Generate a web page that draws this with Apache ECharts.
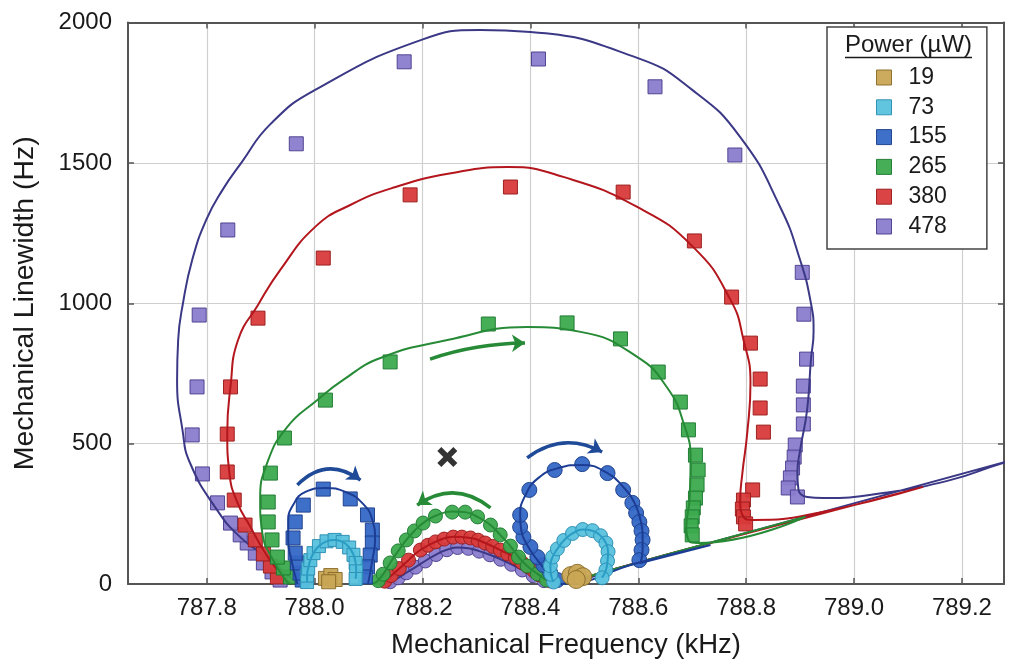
<!DOCTYPE html>
<html><head><meta charset="utf-8">
<script src="https://cdn.jsdelivr.net/npm/echarts@6/dist/echarts.min.js"></script>
<style>html,body{margin:0;padding:0;background:#fff}#chart{width:1012px;height:671px}</style>
</head><body><div id="chart"></div>
<script>
// ---------- axis ticks ----------
const xTicks = [787.8, 788.0, 788.2, 788.4, 788.6, 788.8, 789.0, 789.2];
const yTicks = [0, 500, 1000, 1500, 2000];
const powerLabels = ['19', '73', '155', '265', '380', '478'];

// ---------- 478 uW ----------
const sq478 = [[787.936,14],[787.921,43],[787.905,75],[787.890,110],[787.875,146],[787.862,175],[787.844,217],[787.820,289],[787.792,392],[787.773,531],[787.782,702],[787.786,958],[787.839,1261],[787.966,1568],[788.166,1860],[788.415,1870],[788.631,1771],[788.779,1528],[788.904,1110],[788.907,961],[788.912,801],[788.906,705],[788.906,638],[788.906,570],[788.891,495],[788.889,452],[788.886,413],[788.882,378],[788.878,342],[788.895,310]];
const ci478 = [[788.140,8],[788.155,22],[788.170,40],[788.187,60],[788.205,82],[788.225,105],[788.245,122],[788.265,130],[788.285,127],[788.305,117],[788.325,104],[788.345,88],[788.365,70],[788.385,50],[788.405,30],[788.425,12]];
const fitA478 = [[789.300,445],[788.800,182],[788.550,50],[788.455,0],[788.425,12],[788.405,30],[788.385,50],[788.365,70],[788.345,88],[788.325,104],[788.305,117],[788.285,127],[788.265,130],[788.245,122],[788.225,105],[788.205,82],[788.187,60],[788.170,40],[788.155,22],[788.140,8],[788.128,0]];
const fitB478 = [[787.968,0],[787.960,14],[787.918,85],[787.862,167],[787.819,264],[787.769,431],[787.755,549],[787.745,727],[787.747,869],[787.756,1001],[787.773,1154],[787.799,1297],[787.829,1403],[787.864,1500],[787.918,1638],[788.001,1760],[788.198,1938],[788.307,1973],[788.400,1966],[788.598,1874],[788.700,1760],[788.789,1592],[788.863,1343],[788.900,1154],[788.920,1001],[788.925,900],[788.920,798],[788.913,620],[788.900,477],[788.895,395],[788.897,335],[788.913,310],[788.943,306],[789.054,324],[789.178,370],[789.276,431],[789.300,440]];

// ---------- 380 uW ----------
const sq380 = [[787.931,25],[787.918,64],[787.905,107],[787.890,157],[787.871,210],[787.851,299],[787.838,399],[787.838,534],[787.844,702],[787.895,947],[788.016,1161],[788.177,1386],[788.363,1414],[788.572,1396],[788.704,1222],[788.773,1022],[788.808,858],[788.826,730],[788.826,627],[788.832,541],[788.812,335],[788.795,299],[788.793,267],[788.795,239],[788.799,214]];
const ci380 = [[788.130,10],[788.142,30],[788.157,55],[788.174,85],[788.196,121],[788.210,138],[788.224,150],[788.240,160],[788.257,167],[788.273,167],[788.289,164],[788.303,156],[788.316,146],[788.330,134],[788.344,121],[788.358,107],[788.372,93],[788.384,77],[788.396,61],[788.407,46],[788.418,32],[788.437,11]];
const fitA380 = [[789.128,346],[788.700,129],[788.520,34],[788.455,0],[788.437,11],[788.418,32],[788.396,61],[788.372,93],[788.344,121],[788.316,146],[788.289,164],[788.257,168],[788.224,150],[788.196,121],[788.174,85],[788.157,55],[788.142,30],[788.130,10],[788.120,0]];
const fitB380 = [[787.958,0],[787.931,50],[787.905,121],[787.881,203],[787.857,289],[787.842,395],[787.838,538],[787.844,702],[787.858,869],[787.895,994],[787.936,1118],[788.001,1272],[788.066,1350],[788.150,1414],[788.250,1462],[788.359,1485],[788.461,1450],[788.598,1343],[788.702,1200],[788.771,1012],[788.795,870],[788.808,716],[788.802,538],[788.793,395],[788.789,299],[788.795,239],[788.813,228],[788.932,253],[789.128,346]];

// ---------- 265 uW ----------
const sq265 = [[787.955,25],[787.942,57],[787.931,96],[787.921,157],[787.914,221],[787.914,292],[787.918,395],[787.944,520],[788.020,655],[788.140,791],[788.322,926],[788.468,930],[788.567,873],[788.637,755],[788.678,648],[788.693,549],[788.706,459],[788.711,406],[788.709,353],[788.706,306],[788.702,271],[788.700,239],[788.698,207],[788.700,175]];
const ci265 = [[788.118,12],[788.127,35],[788.140,75],[788.155,118],[788.170,157],[788.185,189],[788.201,217],[788.224,242],[788.255,256],[788.279,256],[788.302,239],[788.326,210],[788.344,175],[788.363,135],[788.378,96],[788.394,64],[788.413,36],[788.430,14]];
const fitA265 = [[788.910,240],[788.650,103],[788.520,34],[788.455,0],[788.440,6],[788.430,14],[788.413,36],[788.394,64],[788.378,96],[788.363,135],[788.344,175],[788.326,210],[788.302,239],[788.279,256],[788.255,258],[788.224,243],[788.201,217],[788.185,189],[788.170,157],[788.155,118],[788.140,75],[788.127,35],[788.115,8],[788.105,0]];
const fitB265 = [[787.955,0],[787.949,7],[787.923,85],[787.903,182],[787.899,299],[787.912,431],[787.949,559],[788.005,655],[788.053,727],[788.122,805],[788.246,869],[788.394,915],[788.493,898],[788.598,809],[788.654,698],[788.684,573],[788.697,442],[788.695,299],[788.689,203],[788.693,157],[788.710,146],[788.910,240]];

// ---------- 155 uW ----------
const sq155 = [[787.977,14],[787.973,39],[787.968,75],[787.964,110],[787.960,164],[787.964,221],[787.979,281],[788.016,338],[788.066,303],[788.098,246],[788.107,192],[788.107,146],[788.103,103],[788.098,61],[788.094,25]];
const ci155 = [[788.450,14],[788.437,39],[788.424,68],[788.413,96],[788.400,132],[788.387,167],[788.381,203],[788.381,246],[788.398,335],[788.445,406],[788.496,427],[788.543,395],[788.572,335],[788.589,289],[788.596,253],[788.602,221],[788.606,189],[788.608,157],[788.606,121],[788.602,85]];
const fitA155 = [[788.734,139],[788.600,76],[788.455,0],[788.452,7],[788.433,39],[788.413,85],[788.394,139],[788.383,192],[788.381,246],[788.391,317],[788.415,378],[788.452,413],[788.496,424],[788.543,395],[788.572,346],[788.593,289],[788.604,228],[788.608,175],[788.608,121],[788.604,75],[788.734,139]];
const fitB155 = [[788.099,0],[788.107,85],[788.112,157],[788.107,228],[788.088,289],[788.057,328],[788.020,342],[787.983,328],[787.960,281],[787.951,221],[787.951,157],[787.957,85],[787.968,0]];

// ---------- 73 uW ----------
const sq73 = [[787.986,7],[787.986,30],[787.988,55],[787.992,85],[787.998,110],[788.008,135],[788.022,152],[788.037,157],[788.052,150],[788.064,130],[788.072,104],[788.076,75],[788.077,45],[788.076,18]];
const ci73 = [[788.443,7],[788.438,35],[788.437,65],[788.441,96],[788.450,125],[788.462,155],[788.478,180],[788.497,194],[788.515,190],[788.530,172],[788.540,146],[788.544,115],[788.543,82],[788.540,50],[788.533,22]];

// ---------- 19 uW ----------
const sq19 = [[788.020,20],[788.030,30],[788.038,16],[788.026,8]];
const ci19 = [[788.475,30],[788.487,38],[788.497,26],[788.485,16]];

// ---------- annotations ----------
const crossPoint = [[788.246,452]];
const arrow155L = [[787.968,353],[788.085,370]];
const arrow155R = [[788.394,449],[788.533,470]];
const arrow265Top = [[788.214,801],[788.390,858]];
const arrow265Low = [[788.326,271],[788.190,281]];

// ---------- styles ----------
const FONT = "'Liberation Sans', Arial, Helvetica, sans-serif";
const TXT = '#1a1a1a';
const fills   = {'19':'#c9a655','73':'#58c2de','155':'#3467c6','265':'#3caa4e','380':'#d83a3a','478':'#8a7ccc'};
const borders = {'19':'#8a6d2a','73':'#2b8db2','155':'#1c3f8a','265':'#1f7a32','380':'#9a1c1c','478':'#4b3f8f'};
const lines   = {'19':'#8a6d2a','73':'#2a9cc4','155':'#1d3d94','265':'#268a36','380':'#b3161c','478':'#3b3886'};

function joinSegs(segs){
  const out = [];
  segs.forEach((s,i)=>{ if(i>0) out.push(['-','-']); s.forEach(p=>out.push(p)); });
  return out;
}
function fitSeries(p, segs, z){
  return {type:'line', name:p+' fit', data:joinSegs(segs), symbol:'none', showSymbol:false,
    smooth:0.5, connectNulls:false, lineStyle:{color:lines[p], width:2}, z:z, silent:true, animation:false};
}
function markSeries(p, data, symbol, size, z, nameSuffix){
  return {type:'scatter', name: nameSuffix ? p+nameSuffix : p, data:data, symbol:symbol, symbolSize:size,
    itemStyle:{color:fills[p], borderColor:borders[p], borderWidth:1, opacity:0.95}, z:z, silent:true, animation:false};
}
function arrowSeries(coords, curv, color, z){
  return {type:'lines', coordinateSystem:'cartesian2d', polyline:false, symbol:['none','arrow'], symbolSize:13,
    data:[{coords:coords, lineStyle:{curveness:curv}}], lineStyle:{color:color, width:3.5, opacity:1}, z:z, silent:true, animation:false};
}

const series = [
  markSeries('478', sq478, 'rect', 14, 2),
  markSeries('478', ci478, 'circle', 14, 2, ' circles'),
  fitSeries('478', [fitA478, fitB478], 3),
  markSeries('380', sq380, 'rect', 14, 4),
  markSeries('380', ci380, 'circle', 14, 4, ' circles'),
  fitSeries('380', [fitA380, fitB380], 5),
  markSeries('265', sq265, 'rect', 14, 6),
  markSeries('265', ci265, 'circle', 14, 6, ' circles'),
  fitSeries('265', [fitA265, fitB265], 7),
  markSeries('155', sq155, 'rect', 14, 8),
  markSeries('155', ci155, 'circle', 15, 8, ' circles'),
  fitSeries('155', [fitA155, fitB155], 9),
  markSeries('73', sq73, 'rect', 13, 10),
  markSeries('73', ci73, 'circle', 14, 10, ' circles'),
  fitSeries('73', [ci73, sq73], 11),
  markSeries('19', sq19, 'rect', 14, 12),
  markSeries('19', ci19, 'circle', 18, 12, ' circles'),
  arrowSeries(arrow155L, 0.43, '#1f4a98', 13),
  arrowSeries(arrow155R, 0.32, '#1f4a98', 13),
  arrowSeries(arrow265Top, 0.08, '#268a36', 13),
  arrowSeries(arrow265Low, -0.37, '#268a36', 13),
  {type:'scatter', name:'cross', data:crossPoint, symbol:'path://M2,0 L5,3 L8,0 L10,2 L7,5 L10,8 L8,10 L5,7 L2,10 L0,8 L3,5 L0,2 Z',
   symbolSize:20, itemStyle:{color:'#000'}, z:14, silent:true, animation:false}
];

const axisLineStyle = {color:'#555', width:2};
const option = {
  animation:false,
  backgroundColor:'#fff',
  grid:{left:128, right:8, top:22.5, bottom:87, containLabel:false, outerBoundsMode:'none'},
  xAxis:[
    {type:'value', min:787.654, max:789.278, position:'bottom',
     axisLine:{show:true, onZero:false, lineStyle:axisLineStyle},
     axisTick:{show:true, inside:true, length:6, customValues:xTicks, lineStyle:{color:'#555', width:1.5}},
     axisLabel:{customValues:xTicks, formatter:v=>Number(v).toFixed(1), fontSize:24, color:TXT, fontFamily:FONT, margin:12},
     splitLine:{show:true, lineStyle:{color:'#cfcfcf', width:1.2}},
     name:'Mechanical Frequency (kHz)', nameLocation:'middle', nameGap:47,
     nameTextStyle:{fontSize:27.5, color:TXT, fontFamily:FONT}},
    {type:'value', min:787.654, max:789.278, position:'top',
     axisLine:{show:true, onZero:false, lineStyle:axisLineStyle},
     axisTick:{show:true, inside:true, length:6, customValues:xTicks, lineStyle:{color:'#555', width:1.5}},
     axisLabel:{show:false}, splitLine:{show:false}}
  ],
  yAxis:[
    {type:'value', min:0, max:2000, interval:500, position:'left',
     axisLine:{show:true, onZero:false, lineStyle:axisLineStyle},
     axisTick:{show:true, inside:true, length:6, customValues:yTicks, lineStyle:{color:'#555', width:1.5}},
     axisLabel:{customValues:yTicks, formatter:v=>String(Math.round(v)), fontSize:24, color:TXT, fontFamily:FONT, margin:16},
     splitLine:{show:true, lineStyle:{color:'#cfcfcf', width:1.2}},
     name:'Mechanical Linewidth (Hz)', nameLocation:'middle', nameGap:88, nameRotate:90,
     nameTextStyle:{fontSize:28.5, color:TXT, fontFamily:FONT}},
    {type:'value', min:0, max:2000, interval:500, position:'right',
     axisLine:{show:true, onZero:false, lineStyle:axisLineStyle},
     axisTick:{show:true, inside:true, length:6, lineStyle:{color:'#555', width:1.5}},
     axisLabel:{show:false}, splitLine:{show:false}}
  ],
  legend:{
    orient:'vertical', left:827, top:27, padding:[39,40,11,49], itemGap:6.8, itemWidth:15, itemHeight:15,
    borderColor:'#444', borderWidth:1.5, backgroundColor:'#fff', selectedMode:false, z:20,
    textStyle:{fontSize:23, color:TXT, fontFamily:FONT, lineHeight:22, padding:[0,0,0,12]},
    data: powerLabels.map(p=>({name:p, icon:'rect', itemStyle:{color:fills[p], borderColor:borders[p], borderWidth:1}}))
  },
  graphic:[
    {type:'text', x:908.5, y:45, z:30, style:{text:'Power (µW)', fontSize:24, fontFamily:FONT, fill:TXT, align:'center', verticalAlign:'middle'}},
    {type:'line', z:30, shape:{x1:845, y1:57.5, x2:972, y2:57.5}, style:{stroke:TXT, lineWidth:1.5}}
  ],
  series: series
};
const chart = echarts.init(document.getElementById('chart'), null, {renderer:'canvas'});
chart.setOption(option);
</script></body></html>
